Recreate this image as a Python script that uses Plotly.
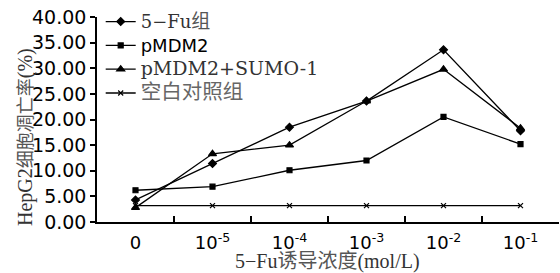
import plotly.graph_objects as go

categories = ["0", "10<sup>-5</sup>", "10<sup>-4</sup>", "10<sup>-3</sup>", "10<sup>-2</sup>", "10<sup>-1</sup>"]
fu_group = [4.3, 11.4, 18.5, 23.6, 33.6, 17.8]
pmdm2 = [6.2, 6.9, 10.1, 12.0, 20.5, 15.2]
pmdm2_sumo = [2.8, 13.3, 15.0, 23.6, 29.8, 18.3]
control = [3.2, 3.2, 3.2, 3.2, 3.2, 3.2]
y_ticks = [0, 5, 10, 15, 20, 25, 30, 35, 40]

serif = "Liberation Serif, serif"
dserif = "DejaVu Serif, serif"
sans = "DejaVu Sans, sans-serif"
cjk = "Noto Sans CJK SC"

def span(text, fam, size, color="#000"):
    return f"<span style='font-family:{fam};font-size:{size}px;color:{color}'>{text}</span>"

x_title = (span("5−Fu", serif, 20, "#333") + span("诱导浓度", cjk, 20, "#555")
           + span("(mol/L)", serif, 20, "#333"))
y_title = (span("HepG2", serif, 20, "#333") + span("细胞凋亡率", cjk, 18, "#555")
           + span("(%)", serif, 20, "#333"))

xpos = list(range(len(categories)))

W, H = 560, 273
L, R, T, B = 97, 1, 17, 51
PW, PH = W - L - R, H - T - B

series = [
    (span("5−Fu", dserif, 18, "#333") + span("组", cjk, 19, "#555"), fu_group, "diamond", 6),
    (span("pMDM2", sans, 18, "#000"), pmdm2, "square", 5),
    (span("pMDM2+SUMO-1", dserif, 19, "#333"), pmdm2_sumo, "triangle-up", 7),
    (span("空白对照组", cjk, 20.5, "#666"), control, "x-thin", 5),
]

fig = go.Figure()
for name, vals, sym, sz in series:
    fig.add_trace(go.Scatter(
        x=xpos, y=vals, name=name, mode="lines+markers",
        line=dict(color="black", width=1.3),
        marker=dict(symbol=sym, size=sz, color="black",
                    line=dict(color="black", width=1.2)),
    ))

fig.update_layout(
    width=W, height=H,
    margin=dict(l=L, r=R, t=T, b=B),
    paper_bgcolor="white", plot_bgcolor="white",
    font=dict(family=sans, size=17, color="black"),
    showlegend=True,
    legend=dict(x=0.008, y=1.06, xanchor="left", yanchor="top",
                bgcolor="rgba(0,0,0,0)", font=dict(size=16),
                itemwidth=30, tracegroupgap=0),
    xaxis=dict(
        range=[-0.5, 5.5], tickmode="array", tickvals=xpos, ticktext=categories,
        ticks="", showgrid=False, zeroline=False, automargin=False,
        showline=True, linecolor="black", linewidth=1.5,
        tickfont=dict(family=sans, size=18), ticklabelstandoff=4,
        minor=dict(tickmode="array", tickvals=[0.5, 1.5, 2.5, 3.5, 4.5],
                   ticks="inside", ticklen=6, tickcolor="black", tickwidth=1.5,
                   showgrid=False),
    ),
    yaxis=dict(
        range=[0, 40], tickmode="array", tickvals=y_ticks,
        ticktext=[f"{v:.2f}" for v in y_ticks],
        ticks="outside", ticklen=5, tickcolor="black", tickwidth=1.5,
        showgrid=False, zeroline=False, automargin=False,
        showline=True, linecolor="black", linewidth=1.5,
        tickfont=dict(family=sans, size=19),
    ),
    annotations=[
        dict(text=x_title, xref="paper", yref="paper",
             x=(327 - L) / PW, y=-(259 - (H - B)) / PH,
             xanchor="center", yanchor="middle", showarrow=False,
             font=dict(family=serif, size=20, color="#333")),
        dict(text=y_title, xref="paper", yref="paper", textangle=-90,
             x=(24 - L) / PW, y=1 - (137 - T) / PH,
             xanchor="center", yanchor="middle", showarrow=False,
             font=dict(family=serif, size=20, color="#444")),
    ],
)

fig.write_html("out.html", config={"displayModeBar": False},
               post_script="document.body.style.margin='0';document.body.style.padding='0';")
